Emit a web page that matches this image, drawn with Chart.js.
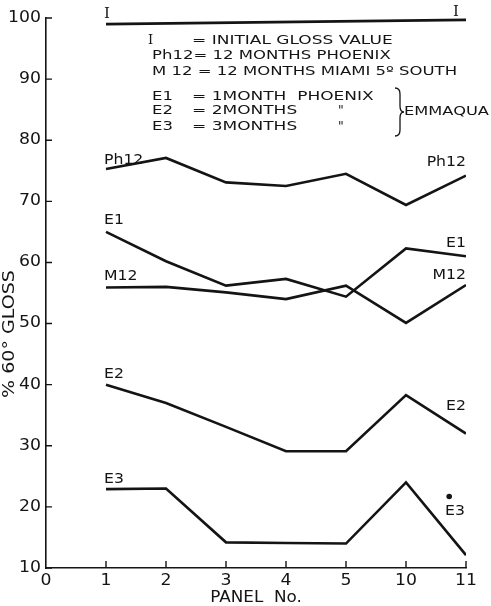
<!DOCTYPE html>
<html>
<head>
<meta charset="utf-8">
<script src="https://cdn.jsdelivr.net/npm/chart.js@4.4.1/dist/chart.umd.min.js"></script>
<style>
  html, body { margin: 0; padding: 0; background: #fff; }
  #wrap { width: 491px; height: 606px; position: relative; }
</style>
</head>
<body>
<div id="wrap"><canvas id="glossChart"></canvas></div>
<script>
// panel numbers on the x axis (evenly spaced, 0 has no data)
const panels = ["0", "1", "2", "3", "4", "5", "10", "11"];
const yTicks = [10, 20, 30, 40, 50, 60, 70, 80, 90, 100];

// % 60° gloss per panel
const initialGloss = [null, 99.0, null, null, null, null, null, 99.7];
const ph12 = [null, 75.3, 77.1, 73.1, 72.5, 74.5, 69.4, 74.2];
const e1 = [null, 65.0, 60.2, 56.2, 57.3, 54.4, 62.3, 61.0];
const m12 = [null, 55.9, 56.0, 55.1, 54.0, 56.2, 50.1, 56.3];
const e2 = [null, 40.0, 37.0, 33.1, 29.1, 29.1, 38.3, 32.0];
const e3 = [null, 22.9, 23.0, 14.2, 14.1, 14.0, 24.0, 12.1];
// lone point near panel 11
const strayX = [6.72];
const strayY = [21.7];

const legendLines = [
  ["I", "= INITIAL GLOSS VALUE"],
  ["Ph12= 12 MONTHS PHOENIX", ""],
  ["M 12 = 12 MONTHS MIAMI 5\u00BA SOUTH", ""],
  ["E1", "= 1MONTH  PHOENIX"],
  ["E2", "= 2MONTHS"],
  ["E3", "= 3MONTHS"]
];

const INK = "#141414";
const FONT = "'DejaVu Sans', sans-serif";

function toPoints(values) {
  const pts = [];
  values.forEach((v, i) => {
    if (v !== null) pts.push({ x: i, y: v });
  });
  return pts;
}

function lineSet(label, values) {
  return {
    label: label,
    data: toPoints(values),
    borderColor: INK,
    borderWidth: 2.6,
    pointRadius: 0,
    tension: 0,
    fill: false,
    borderJoinStyle: "miter"
  };
}

// draw text stretched horizontally (lettering-guide look)
function stretchText(ctx, text, x, y, size, stretch, align, family) {
  ctx.save();
  ctx.font = size + "px " + (family || FONT);
  ctx.textBaseline = "middle";
  const w = ctx.measureText(text).width * stretch;
  let left = x;
  if (align === "right") left = x - w;
  if (align === "center") left = x - w / 2;
  ctx.translate(left, y);
  ctx.scale(stretch, 1);
  ctx.textAlign = "left";
  ctx.fillStyle = INK;
  ctx.fillText(text, 0, 0);
  ctx.restore();
}

const annotations = {
  id: "annotations",
  afterDraw(chart) {
    const ctx = chart.ctx;
    const xs = chart.scales.x;
    const ys = chart.scales.y;
    const area = chart.chartArea;
    const px = i => xs.getPixelForValue(i);
    const py = v => ys.getPixelForValue(v);

    // inward tick marks
    ctx.save();
    ctx.strokeStyle = INK;
    ctx.lineWidth = 1.4;
    ctx.beginPath();
    yTicks.forEach(t => {
      ctx.moveTo(area.left, py(t));
      ctx.lineTo(area.left + 6, py(t));
    });
    for (let i = 1; i < panels.length; i++) {
      ctx.moveTo(px(i), area.bottom);
      ctx.lineTo(px(i), area.bottom - 7);
    }
    ctx.stroke();
    ctx.restore();

    // tick labels
    yTicks.forEach(t => {
      stretchText(ctx, String(t), area.left - 5, py(t), 15, 1.15, "right");
    });
    panels.forEach((p, i) => {
      stretchText(ctx, p, px(i), area.bottom + 13, 15, 1.15, "center");
    });

    // axis titles
    ctx.save();
    ctx.translate(10, 334);
    ctx.rotate(-Math.PI / 2);
    stretchText(ctx, "% 60\u00B0 GLOSS", 0, 0, 15, 1.27, "center");
    ctx.restore();
    stretchText(ctx, "PANEL  No.", (area.left + area.right) / 2, 598, 15, 1.12, "center");

    // series names at line ends
    const ends = [
      ["Ph12", ph12, -9, -13],
      ["E1", e1, -12, -13],
      ["M12", m12, -11, -10],
      ["E2", e2, -10, -27]
    ];
    ends.forEach(([name, vals, dl, dr]) => {
      stretchText(ctx, name, px(1) - 2, py(vals[1]) + dl, 14, 1.12, "left");
      stretchText(ctx, name, px(7), py(vals[7]) + dr, 14, 1.12, "right");
    });
    stretchText(ctx, "E3", px(1) - 2, py(e3[1]) - 10, 14, 1.12, "left");
    stretchText(ctx, "E3", px(7) - 1, py(strayY[0]) + 15, 14, 1.12, "right");

    // I markers on the initial gloss line
    stretchText(ctx, "I", px(1) - 2, py(initialGloss[1]) - 10, 15, 1, "left", "'DejaVu Serif', serif");
    stretchText(ctx, "I", px(7) - 7, py(initialGloss[7]) - 8, 15, 1, "right", "'DejaVu Serif', serif");

    // key block
    const rows = [41, 56, 72, 97, 111, 127];
    legendLines.forEach(([a, b], i) => {
      if (i === 0) {
        stretchText(ctx, a, 148, rows[i], 13, 1, "left", "'DejaVu Serif', serif");
      } else {
        stretchText(ctx, a, 152, rows[i], 12.5, 1.32, "left");
      }
      if (b) stretchText(ctx, b, 192, rows[i], 12.5, 1.36, "left");
    });
    stretchText(ctx, "\"", 338, rows[4], 12.5, 1, "left");
    stretchText(ctx, "\"", 338, rows[5], 12.5, 1, "left");

    // brace
    ctx.save();
    ctx.strokeStyle = INK;
    ctx.lineWidth = 1.3;
    ctx.beginPath();
    ctx.moveTo(395, 88);
    ctx.quadraticCurveTo(400, 88, 400, 94);
    ctx.lineTo(400, 106);
    ctx.quadraticCurveTo(400, 112, 404, 112);
    ctx.quadraticCurveTo(400, 112, 400, 118);
    ctx.lineTo(400, 130);
    ctx.quadraticCurveTo(400, 136, 395, 136);
    ctx.stroke();
    ctx.restore();
    stretchText(ctx, "EMMAQUA", 404, 112, 12.5, 1.3, "left");
  }
};

new Chart(document.getElementById("glossChart"), {
  type: "line",
  data: {
    datasets: [
      lineSet("I", initialGloss),
      lineSet("Ph12", ph12),
      lineSet("E1", e1),
      lineSet("M12", m12),
      lineSet("E2", e2),
      lineSet("E3", e3),
      {
        type: "scatter",
        label: "dot",
        data: strayX.map((x, i) => ({ x: x, y: strayY[i] })),
        pointRadius: 2.8,
        pointBackgroundColor: INK,
        pointBorderWidth: 0
      }
    ]
  },
  options: {
    responsive: true,
    maintainAspectRatio: false,
    animation: false,
    layout: { padding: { top: 18, right: 25, left: 0, bottom: 0 } },
    plugins: { legend: { display: false }, tooltip: { enabled: false } },
    scales: {
      x: {
        type: "linear",
        min: 0,
        max: 7,
        afterFit: s => { s.height = 38; },
        afterBuildTicks: s => { s.ticks = panels.map((p, i) => ({ value: i })); },
        ticks: { display: false },
        grid: { display: false, drawTicks: false },
        border: { display: true, color: INK, width: 1.6 }
      },
      y: {
        min: 10,
        max: 100,
        afterFit: s => { s.width = 46; },
        afterBuildTicks: s => { s.ticks = yTicks.map(v => ({ value: v })); },
        ticks: { display: false },
        grid: { display: false, drawTicks: false },
        border: { display: true, color: INK, width: 1.6 }
      }
    }
  },
  plugins: [annotations]
});
</script>
</body>
</html>
